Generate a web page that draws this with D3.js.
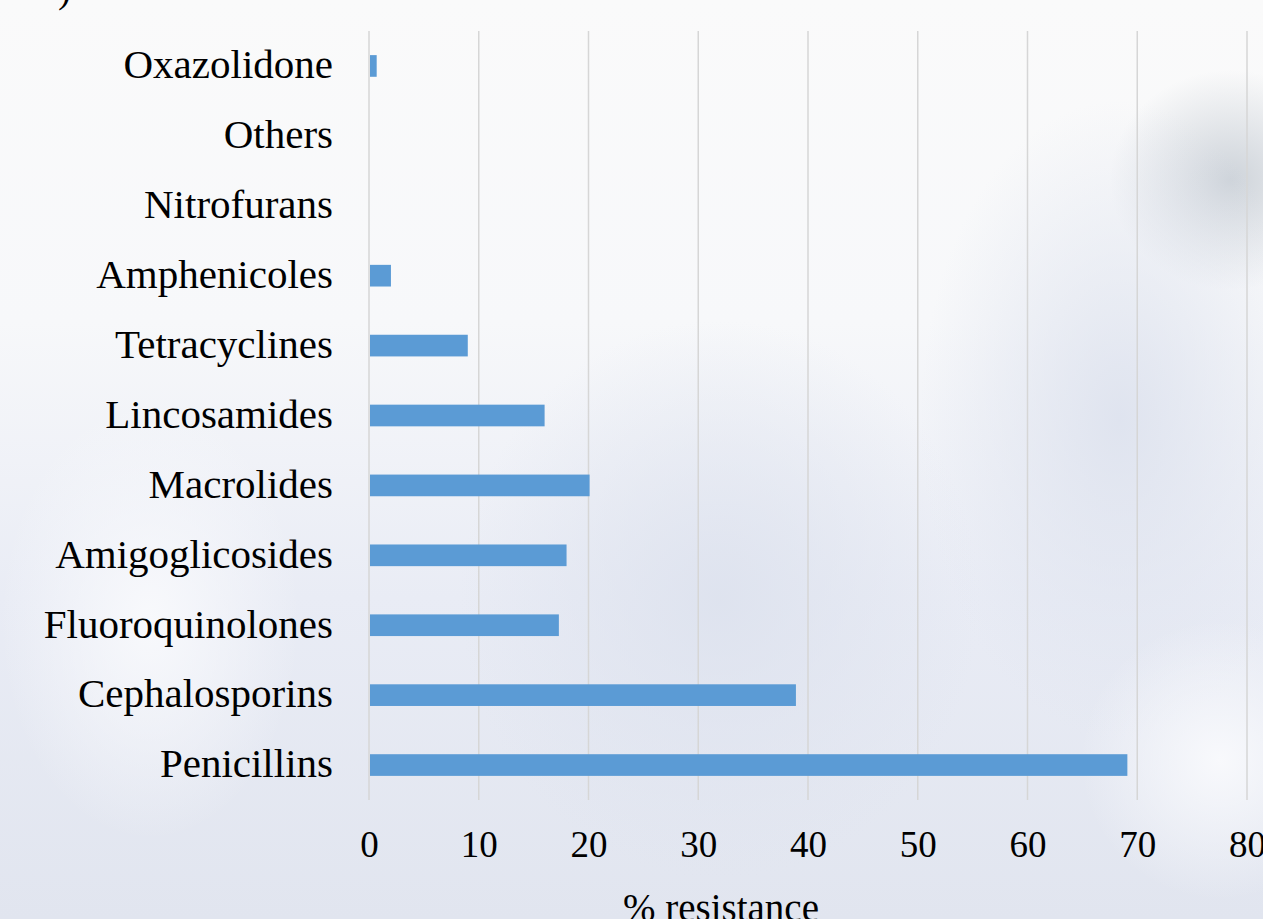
<!DOCTYPE html>
<html lang="en">
<head>
	<meta charset="UTF-8"/>
	<title>% resistance by antibiotic class</title>
	<script src="https://d3js.org/d3.v7.min.js"></script>
	<style>
		body {
			margin: 0;
			padding: 0;
			overflow: hidden;
			background-color: #eef0f6;
		}
		#chart text {
			font-family: "Liberation Serif", "DejaVu Serif", serif;
			fill: #000000;
		}
	</style>
</head>
<body>
	<div id="chart">
	<script>
		// chart size
		var w = 1263;
		var h = 919;

		// data (top to bottom)
		var classes = ["Oxazolidone", "Others", "Nitrofurans", "Amphenicoles", "Tetracyclines",
			"Lincosamides", "Macrolides", "Amigoglicosides", "Fluoroquinolones", "Cephalosporins", "Penicillins"];
		var resistance = [0.7, 0, 0, 2.0, 9.0, 16.0, 20.1, 18.0, 17.3, 38.9, 69.1];
		var xTicks = [0, 10, 20, 30, 40, 50, 60, 70, 80];

		var dataset = classes.map(function (c, i) {
			return { name: c, value: resistance[i] };
		});

		var svg = d3.select("#chart")
			.append("svg")
			.attr("width", w)
			.attr("height", h);

		// blurry photo-like background
		var defs = svg.append("defs");
		var base = defs.append("linearGradient")
			.attr("id", "bg")
			.attr("x1", 0).attr("y1", 0).attr("x2", 0).attr("y2", 1);
		base.append("stop").attr("offset", "0%").attr("stop-color", "#fafafa");
		base.append("stop").attr("offset", "35%").attr("stop-color", "#f7f8fa");
		base.append("stop").attr("offset", "65%").attr("stop-color", "#e9ecf5");
		base.append("stop").attr("offset", "100%").attr("stop-color", "#e1e5ef");

		var blob = defs.append("radialGradient").attr("id", "blob");
		blob.append("stop").attr("offset", "0%").attr("stop-color", "#c9cfd6").attr("stop-opacity", 0.9);
		blob.append("stop").attr("offset", "100%").attr("stop-color", "#c9cfd6").attr("stop-opacity", 0);

		var blob2 = defs.append("radialGradient").attr("id", "blob2");
		blob2.append("stop").attr("offset", "0%").attr("stop-color", "#dde2ee").attr("stop-opacity", 0.9);
		blob2.append("stop").attr("offset", "100%").attr("stop-color", "#dde2ee").attr("stop-opacity", 0);

		var glow = defs.append("radialGradient").attr("id", "glow");
		glow.append("stop").attr("offset", "0%").attr("stop-color", "#f8f9fc").attr("stop-opacity", 1);
		glow.append("stop").attr("offset", "100%").attr("stop-color", "#f8f9fc").attr("stop-opacity", 0);

		svg.append("rect").attr("width", w).attr("height", h).attr("fill", "url(#bg)");
		svg.append("ellipse").attr("cx", 1230).attr("cy", 180).attr("rx", 120).attr("ry", 110).attr("fill", "url(#blob)");
		svg.append("ellipse").attr("cx", 1120).attr("cy", 420).attr("rx", 200).attr("ry", 320).attr("fill", "url(#blob2)");
		svg.append("ellipse").attr("cx", 720).attr("cy", 600).attr("rx", 260).attr("ry", 280).attr("fill", "url(#blob2)");
		svg.append("ellipse").attr("cx", 1220).attr("cy", 760).attr("rx", 140).attr("ry", 140).attr("fill", "url(#glow)");
		svg.append("ellipse").attr("cx", 150).attr("cy", 620).attr("rx", 150).attr("ry", 220).attr("fill", "url(#glow)");

		// scales
		var xScale = d3.scaleLinear()
			.domain([0, 80])
			.range([369, 1247]);

		var yScale = d3.scaleBand()
			.domain(classes)
			.range([31, 800])
			.paddingInner(0.69)
			.paddingOuter(0.345);

		// vertical gridlines
		svg.append("g")
			.selectAll("line")
			.data(xTicks)
			.enter()
			.append("line")
			.attr("x1", function (d) { return xScale(d); })
			.attr("x2", function (d) { return xScale(d); })
			.attr("y1", 31)
			.attr("y2", 800)
			.attr("stroke", "#d6d6d6")
			.attr("stroke-width", 1.5);

		// bars
		svg.append("g")
			.selectAll("rect")
			.data(dataset)
			.enter()
			.append("rect")
			.attr("x", xScale(0) + 1)
			.attr("y", function (d) { return yScale(d.name); })
			.attr("width", function (d) { return Math.max(0, xScale(d.value) - xScale(0) - 1); })
			.attr("height", yScale.bandwidth())
			.attr("fill", "#5b9bd5");

		// category labels
		var yAxis = d3.axisLeft(yScale).tickSize(0).tickPadding(0);
		var yg = svg.append("g")
			.attr("transform", "translate(333, 0)")
			.call(yAxis);
		yg.select(".domain").remove();
		yg.selectAll("text")
			.attr("font-size", "41px")
			.attr("dy", "0.3em");

		// value axis labels
		var xAxis = d3.axisBottom(xScale).tickValues(xTicks).tickSize(0).tickPadding(0);
		var xg = svg.append("g")
			.attr("transform", "translate(0, 831)")
			.call(xAxis);
		xg.select(".domain").remove();
		xg.selectAll("text")
			.attr("font-size", "37px")
			.attr("dy", "0.71em");

		// axis title
		svg.append("text")
			.attr("x", 721)
			.attr("y", 921)
			.attr("text-anchor", "middle")
			.attr("font-size", "39px")
			.text("% resistance");

		// panel letter, mostly cut off at the top
		svg.append("text")
			.attr("x", 58)
			.attr("y", 2)
			.attr("font-size", "39px")
			.text(")");
	</script>
	</div>
</body>
</html>
